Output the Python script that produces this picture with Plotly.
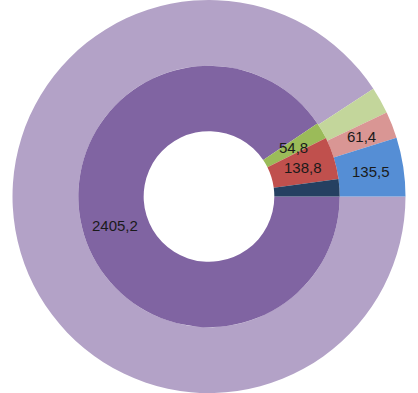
import math
import plotly.graph_objects as go

# Inner ring (clockwise from 3 o'clock)
inner_labels = ["A", "B", "C", "D"]
inner_values = [2405.2, 54.8, 138.8, 57.0]
inner_show = [True, True, True, False]
inner_colors = ["#8064A2", "#9BBB59", "#C0504D", "#254061"]

# Outer ring (clockwise from 3 o'clock)
outer_labels = ["A", "B", "C", "D"]
outer_values = [2545.0, 62.0, 61.4, 135.5]
outer_show = [False, False, True, True]
outer_colors = ["#B3A2C7", "#C3D69B", "#D99694", "#558ED5"]


def fmt(v):
    return f"{v:.1f}".replace(".", ",")


W, H = 418, 393
R_OUT = H / 2
OUT_HOLE = 0.665
IN_HOLE = 0.5
R_IN = R_OUT * OUT_HOLE
R_HOLE = R_IN * IN_HOLE
fx = R_IN * 2 / W
fy = R_IN * 2 / H

fig = go.Figure()
fig.add_trace(go.Pie(
    labels=outer_labels, values=outer_values, sort=False,
    direction="clockwise", rotation=90, hole=OUT_HOLE,
    marker=dict(colors=outer_colors, line=dict(width=0)),
    textinfo="none",
    domain=dict(x=[0, 1], y=[0, 1]), showlegend=False, hoverinfo="label+value",
))
fig.add_trace(go.Pie(
    labels=inner_labels, values=inner_values, sort=False,
    direction="clockwise", rotation=90, hole=IN_HOLE,
    marker=dict(colors=inner_colors, line=dict(width=0)),
    textinfo="none",
    domain=dict(x=[0.5 - fx / 2, 0.5 + fx / 2], y=[0.5 - fy / 2, 0.5 + fy / 2]),
    showlegend=False, hoverinfo="label+value",
))


def ring_labels(values, show, r0, r1):
    total = sum(values)
    start = 0.0
    anns = []
    for v, s in zip(values, show):
        span = v / total * 360.0
        mid = start + span / 2
        start += span
        if not s:
            continue
        a = math.radians(-mid)  # clockwise from 3 o'clock
        r = (r0 + r1) / 2
        px = W / 2 + r * math.cos(a)
        py = H / 2 - r * math.sin(a)
        anns.append(dict(
            x=px / W, y=1 - py / H, xref="paper", yref="paper",
            text=fmt(v), showarrow=False, xanchor="center", yanchor="middle",
            font=dict(family="Liberation Sans", size=15, color="#1a1a1a"),
        ))
    return anns


annotations = ring_labels(inner_values, inner_show, R_HOLE, R_IN) + \
    ring_labels(outer_values, outer_show, R_IN, R_OUT)

fig.update_layout(
    width=W, height=H, margin=dict(l=0, r=0, t=0, b=0),
    paper_bgcolor="white", plot_bgcolor="white",
    annotations=annotations,
)
fig.write_html(
    "out.html",
    config={"displayModeBar": False},
    post_script="document.body.style.margin='0';document.body.style.overflow='hidden';",
)
